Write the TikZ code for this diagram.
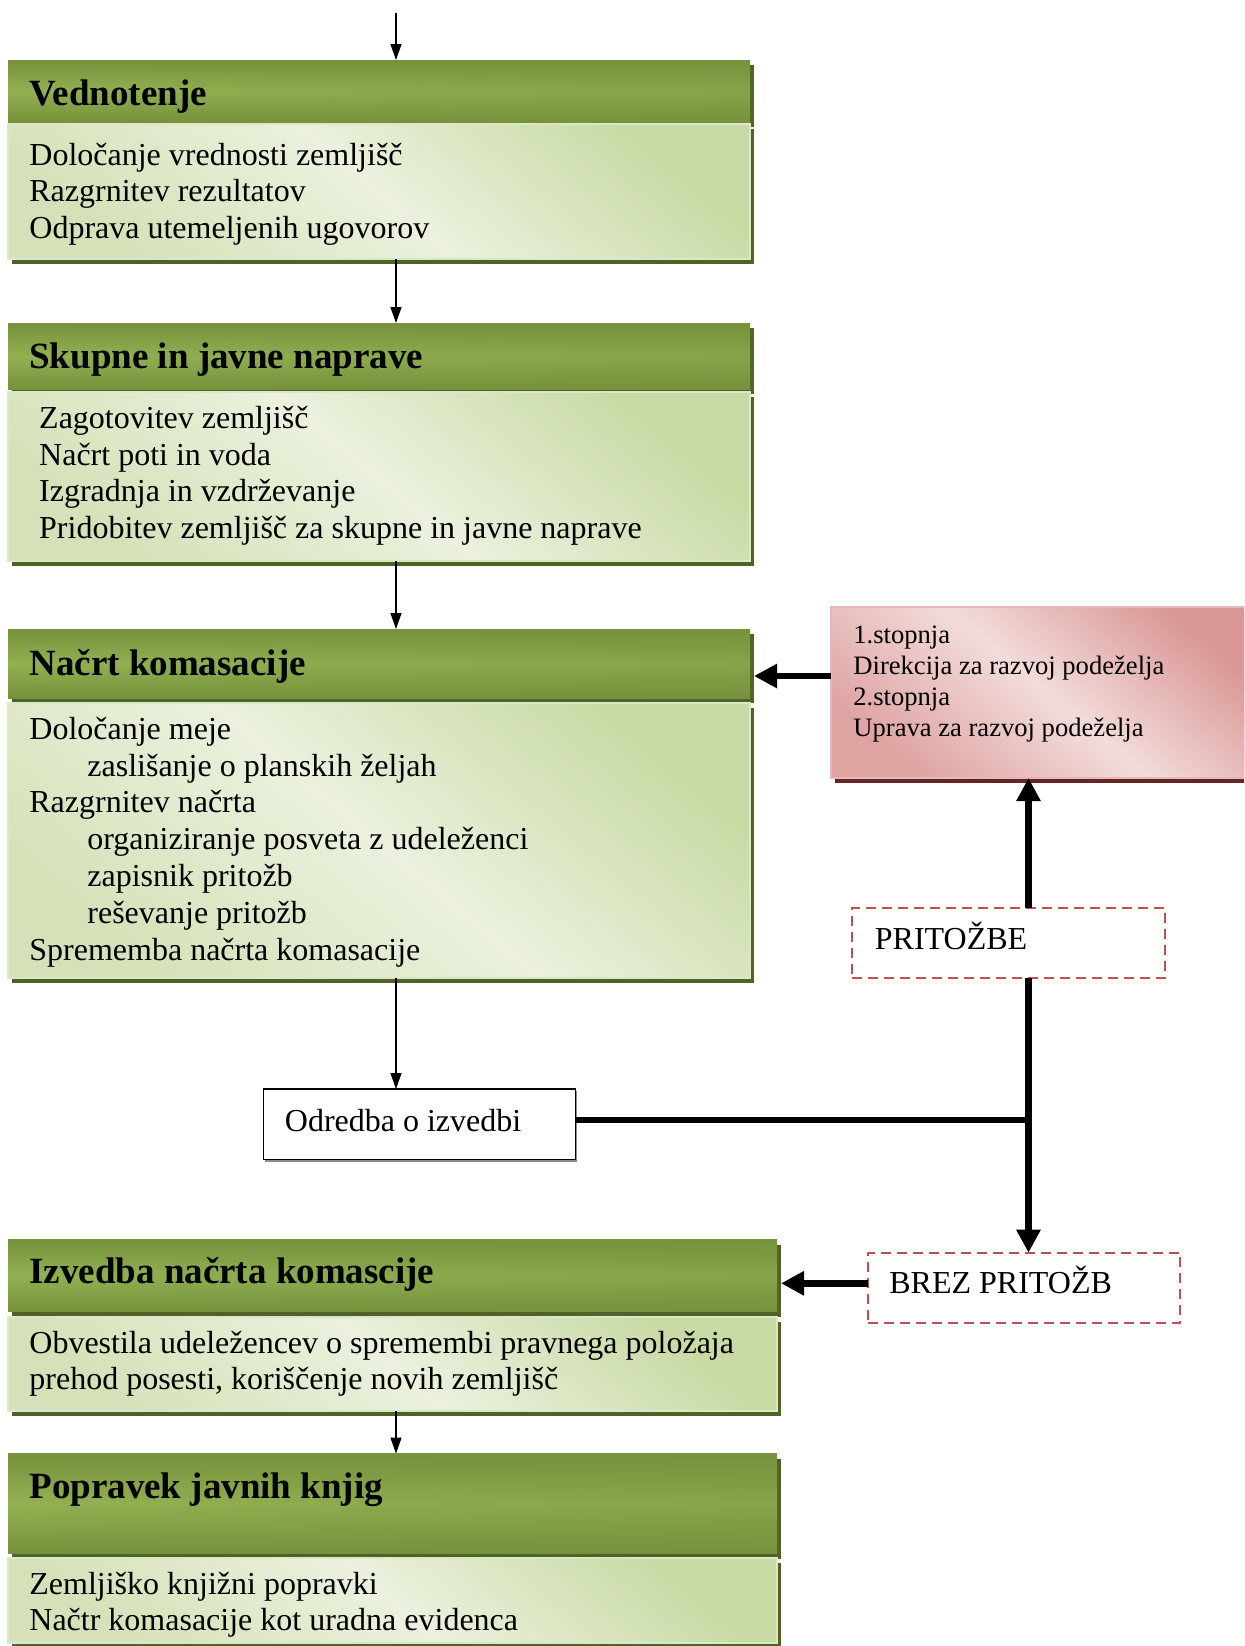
\documentclass[tikz,border=0pt]{standalone}
\usepackage{fontspec}
\setmainfont{Liberation Serif}
\usetikzlibrary{arrows.meta,shadows,fadings}
\definecolor{hdark}{HTML}{76923C}
\definecolor{hlight}{HTML}{9BBB59}
\definecolor{gshade}{HTML}{4F6228}
\definecolor{blight}{HTML}{EBF1DE}
\definecolor{bdark}{HTML}{C3D69B}
\definecolor{bedge}{HTML}{DCE7C5}
\definecolor{rdark}{HTML}{D99694}
\definecolor{rlight}{HTML}{F2DCDB}
\definecolor{rshade}{HTML}{632523}
\definecolor{redge}{HTML}{E6B9B8}
\definecolor{dashred}{HTML}{C0504D}
% darker toward both ends of a title bar, clear in the middle
\tikzfading[name=hedge, left color=transparent!60, middle color=transparent!100, right color=transparent!0]

\begin{document}
\begin{tikzpicture}[x=0.5pt,y=-0.5pt,
  boxbase/.style={rectangle, anchor=north west, inner sep=0pt, outer sep=0pt},
  hdr/.style={boxbase, top color=hdark, bottom color=hdark, middle color=hlight,
    drop shadow={shadow xshift=2pt, shadow yshift=-2.5pt, fill=gshade, opacity=1},
    postaction={fill=hdark, path fading=hedge, fill opacity=0.55}},
  bdy/.style={boxbase, draw=bedge, line width=0.75pt,
    top color=bdark!85!blight, bottom color=bdark!55!blight, middle color=blight, shading angle=-40,
    drop shadow={shadow xshift=2pt, shadow yshift=-2.5pt, fill=gshade, opacity=1}},
  redbox/.style={boxbase, draw=redge, line width=0.75pt,
    top color=rdark, bottom color=rdark!80!rlight, middle color=rlight, shading angle=-40,
    drop shadow={shadow xshift=2pt, shadow yshift=-2.5pt, fill=rshade, opacity=1}},
  plainbox/.style={boxbase, draw=black, line width=0.8pt, fill=white,
    drop shadow={shadow xshift=0.8pt, shadow yshift=-1pt, fill=black!45, opacity=1}},
  dashbox/.style={boxbase, draw=dashred, line width=1.2pt, dash pattern=on 5pt off 3pt, fill=white},
  txt/.style={anchor=base west, inner sep=0pt, font=\fontsize{16}{19}\selectfont},
  htxt/.style={anchor=base west, inner sep=0pt, font=\bfseries\fontsize{18.5}{22}\selectfont},
  rtxt/.style={anchor=base west, inner sep=0pt, font=\fontsize{13.3}{16}\selectfont},
  thinarr/.style={line width=0.65pt, -{Triangle[length=8pt,width=5.5pt]}},
  thickarr/.style={line width=3.35pt, -{Triangle[length=11.5pt,width=11.5pt]}},
  thickline/.style={line width=3.35pt}
]
\useasboundingbox (0,0) rectangle (1244,1646);
\clip (0,0) rectangle (1244,1646);

% ---- stage boxes: title bar + content panel ----
\node[hdr, minimum width=371pt, minimum height=31pt]   (h1) at (8,60) {};
\node[bdy, minimum width=371pt, minimum height=67.5pt] (b1) at (8,124) {};
\node[hdr, minimum width=371pt, minimum height=33pt]   (h2) at (8,323) {};
\node[bdy, minimum width=371pt, minimum height=84.5pt] (b2) at (8,392) {};
\node[hdr, minimum width=371pt, minimum height=34.5pt] (h3) at (8,629) {};
\node[bdy, minimum width=371pt, minimum height=137.5pt] (b3) at (8,703) {};
\node[hdr, minimum width=384.5pt, minimum height=36pt] (h4) at (8,1239.5) {};
\node[bdy, minimum width=384.5pt, minimum height=47pt] (b4) at (8,1317) {};
\node[hdr, minimum width=384.5pt, minimum height=50pt] (h5) at (8,1453.5) {};
\node[bdy, minimum width=384.5pt, minimum height=42.5pt] (b5) at (8,1558) {};

% ---- side boxes ----
\node[redbox, minimum width=215.5pt, minimum height=85.5pt] (red) at (831,607) {};
\node[plainbox, minimum width=156pt, minimum height=35.25pt] (od) at (263.5,1089) {};
\node[dashbox, minimum width=156.5pt, minimum height=35pt] (pr) at (852,908) {};
\node[dashbox, minimum width=156pt, minimum height=35.25pt] (bz) at (868,1252.7) {};

% ---- titles ----
\node[htxt] (t1) at (29,105) {Vednotenje};
\node[htxt] (t2) at (29,368.5) {Skupne in javne naprave};
\node[htxt] (t3) at (29,675) {Načrt komasacije};
\node[htxt] (t4) at (29,1283.3) {Izvedba načrta komascije};
\node[htxt] (t5) at (29,1498.5) {Popravek javnih knjig};

% ---- panel texts ----
\foreach \s [count=\i] in {Določanje vrednosti zemljišč, Razgrnitev rezultatov, Odprava utemeljenih ugovorov}
  \node[txt] (l1\i) at (29,{165+(\i-1)*36.5}) {\s};
\foreach \s [count=\i] in {Zagotovitev zemljišč, Načrt poti in voda, Izgradnja in vzdrževanje, Pridobitev zemljišč za skupne in javne naprave}
  \node[txt] (l2\i) at (38.8,{428.5+(\i-1)*36.6}) {\s};
\foreach \xx/\s [count=\i] in {29/Določanje meje, 87/zaslišanje o planskih željah, 29/Razgrnitev načrta,
    87/organiziranje posveta z udeleženci, 87/zapisnik pritožb, 87/reševanje pritožb, 29/Sprememba načrta komasacije}
  \node[txt] (l3\i) at (\xx,{739.3+(\i-1)*36.8}) {\s};
\foreach \s [count=\i] in {Obvestila udeležencev o spremembi pravnega položaja, {prehod posesti, koriščenje novih zemljišč}}
  \node[txt] (l4\i) at (29,{1353.5+(\i-1)*36}) {\s};
\foreach \s [count=\i] in {Zemljiško knjižni popravki, Načtr komasacije kot uradna evidenca}
  \node[txt] (l5\i) at (29,{1594.5+(\i-1)*36}) {\s};
\foreach \s [count=\i] in {1.stopnja, Direkcija za razvoj podeželja, 2.stopnja, Uprava za razvoj podeželja}
  \node[rtxt] (r\i) at (853,{643.5+(\i-1)*31}) {\s};

\node[txt] (odt) at (284.5,1131) {Odredba o izvedbi};
\node[txt] (prt) at (874.5,949) {PRITOŽBE};
\node[txt] (bzt) at (889,1293.5) {BREZ PRITOŽB};

% ---- connectors ----
\coordinate (top) at (396,12.6);
\coordinate (ra) at (754,676);
\coordinate (jn) at (1028.5,1120);
\coordinate (ba) at (781,1283.3);

\draw[thinarr] (top) -- (top |- h1.north);
\draw[thinarr] (b1.south -| top) -- (h2.north -| top);
\draw[thinarr] (b2.south -| top) -- (h3.north -| top);
\draw[thinarr] (b3.south -| top) -- (od.north -| top);
\draw[thinarr] (b4.south -| top) -- (h5.north -| top);

\draw[thickarr] (red.west |- ra) -- (ra);
\draw[thickarr] (pr.north -| jn) -- (red.south -| jn);
\draw[thickline] (od.east |- jn) -- (jn);
\draw[thickarr] (pr.south -| jn) -- (bz.north -| jn);
\draw[thickarr] (bz.west |- ba) -- (ba);
\end{tikzpicture}
\end{document}
